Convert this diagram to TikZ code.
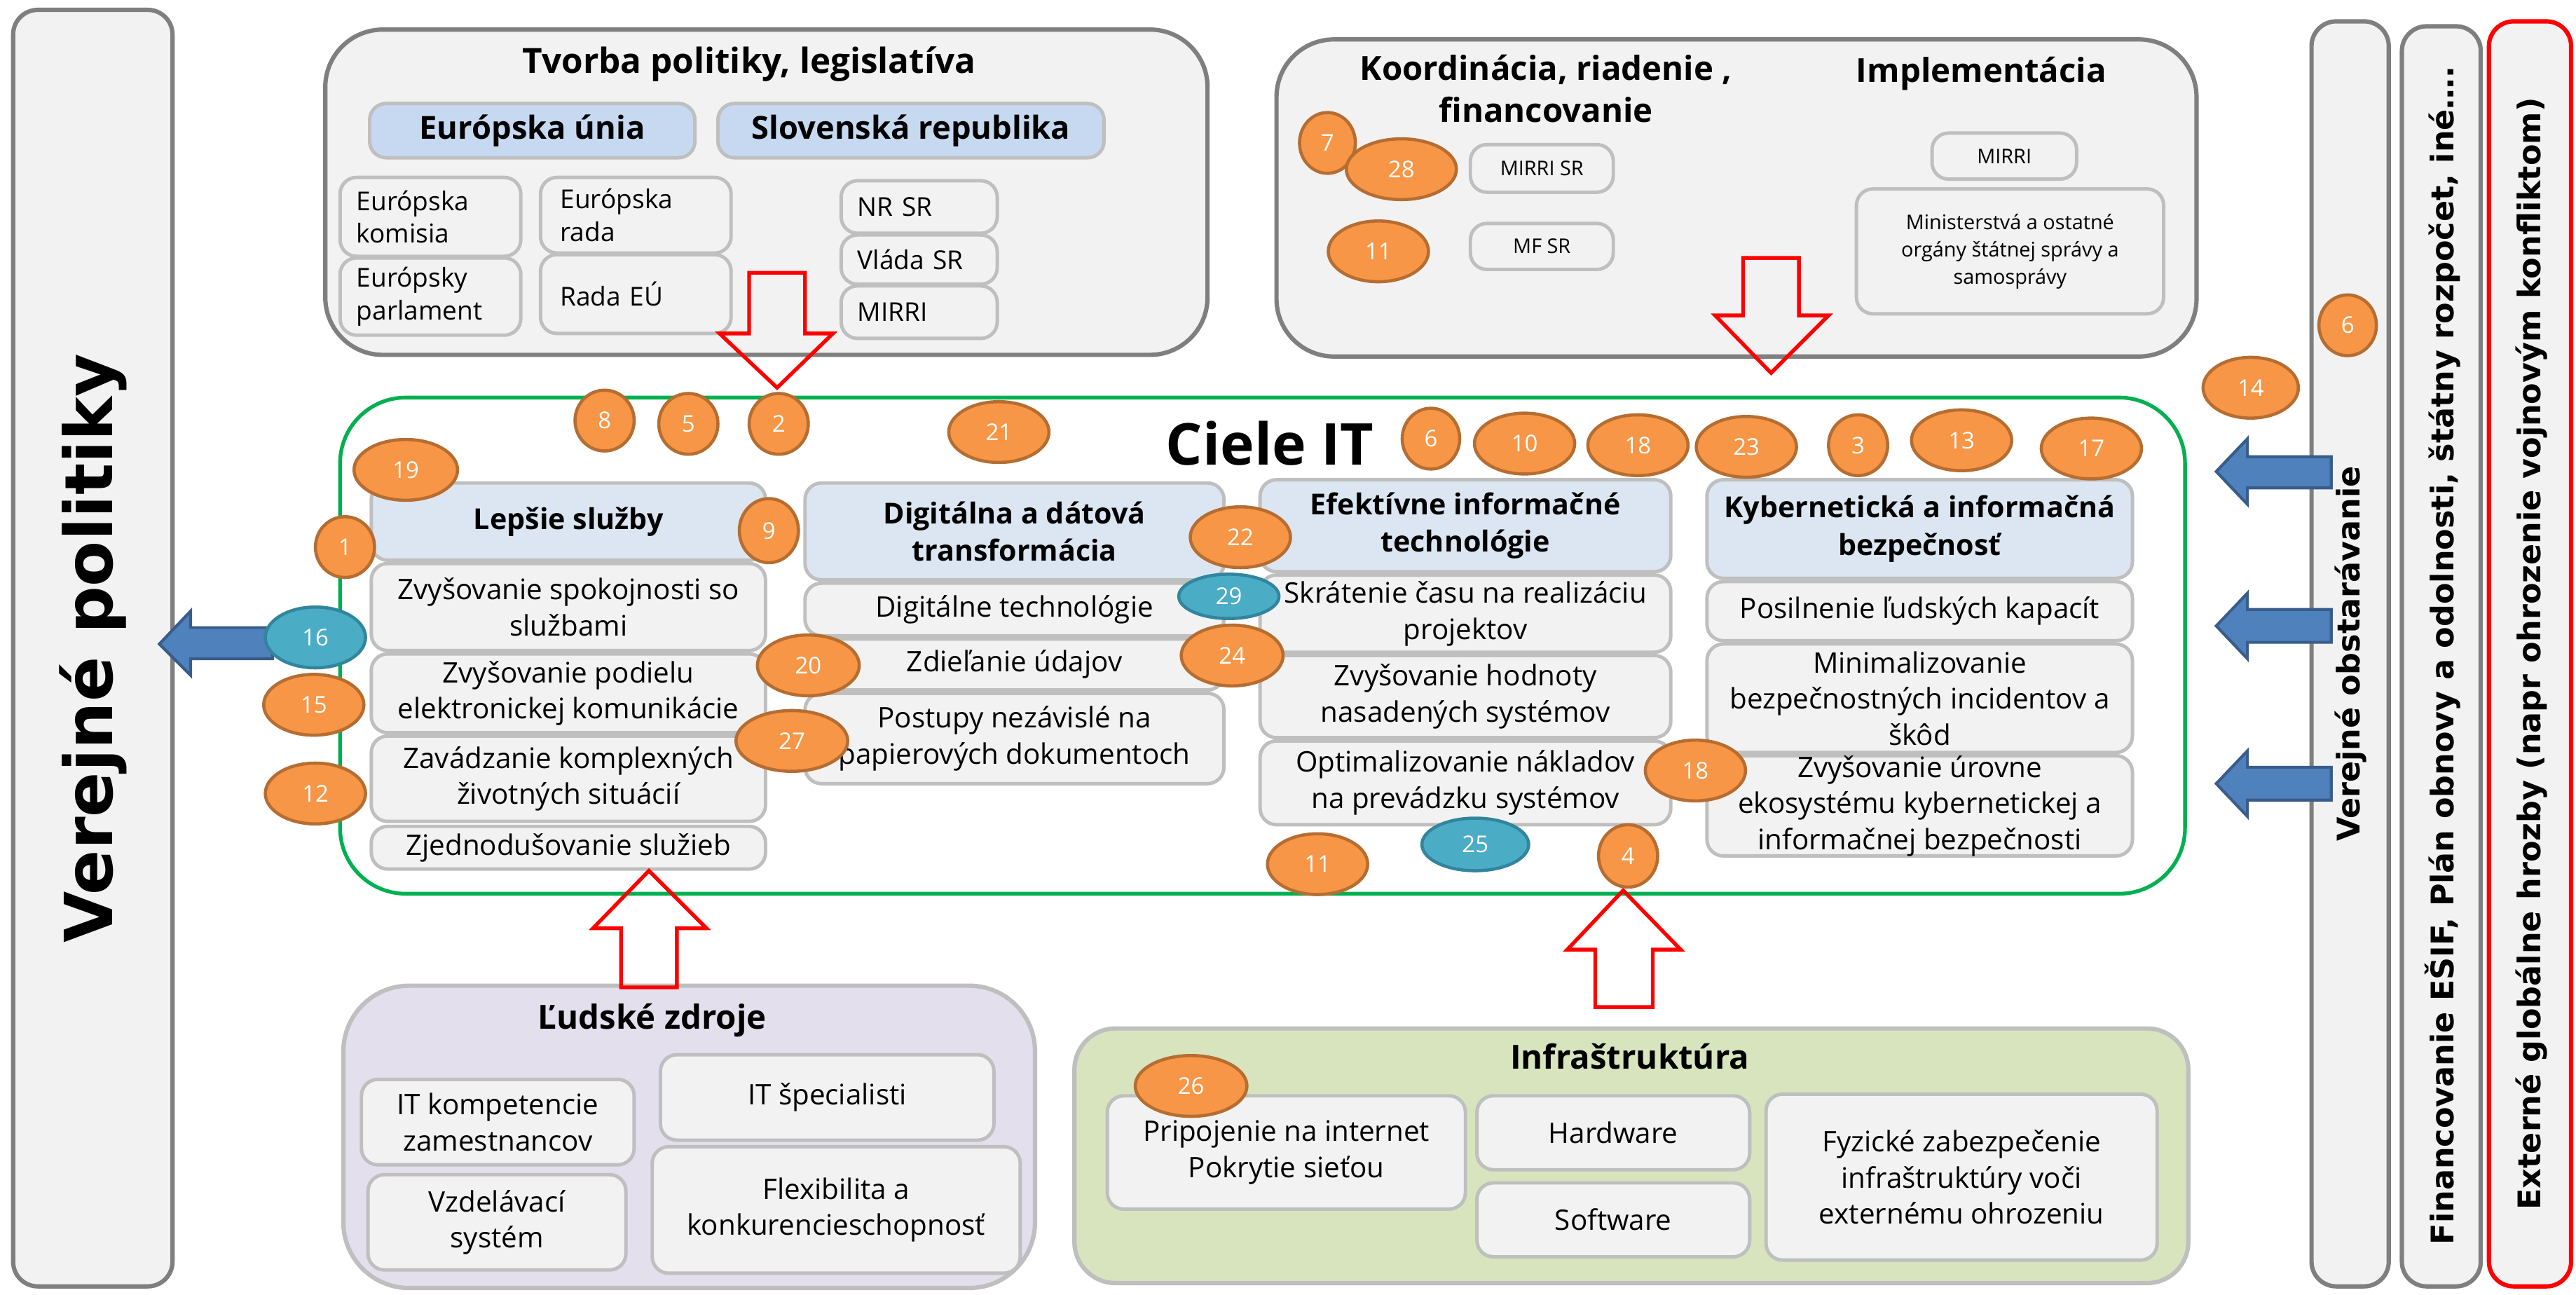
\documentclass[tikz,border=0pt]{standalone}
\usepackage{fontspec}
\setmainfont{Open Sans}
\newfontfamily\vertfont{DejaVu Sans}
\usepackage{tikz}
\usetikzlibrary{shapes.geometric,fit,positioning}

\definecolor{boxfill}{HTML}{F2F2F2}
\definecolor{boxline}{HTML}{BFBFBF}
\definecolor{bigline}{HTML}{7F7F7F}
\definecolor{headfill}{HTML}{DCE6F2}
\definecolor{eufill}{HTML}{C6D9F1}
\definecolor{ludfill}{HTML}{E4DFEC}
\definecolor{infrafill}{HTML}{D7E4BD}
\definecolor{numfill}{HTML}{F79646}
\definecolor{numline}{HTML}{B66D31}
\definecolor{tealfill}{HTML}{4BACC6}
\definecolor{tealline}{HTML}{31859C}
\definecolor{arrfill}{HTML}{4F81BD}
\definecolor{arrline}{HTML}{385D8A}
\definecolor{cielgreen}{HTML}{00B050}

\begin{document}
\begin{tikzpicture}[x=0.02cm, y=-0.02cm,
    smallbox/.style={draw=boxline, line width=1.2pt, fill=boxfill, rounded corners=0.2cm, inner sep=0pt},
    headbox/.style={smallbox, fill=headfill},
    eubox/.style={smallbox, fill=eufill},
    bodytext/.style={align=center, inner sep=0pt, font=\fontsize{9.8}{12.5}\selectfont},
    headtext/.style={bodytext, font=\bfseries\fontsize{10}{13}\selectfont},
    eutext/.style={bodytext, font=\bfseries\fontsize{11}{13}\selectfont},
    lefttext/.style={align=left, inner sep=0pt, font=\fontsize{9}{11.4}\selectfont},
    tinytext/.style={bodytext, font=\fontsize{7}{9.4}\selectfont},
    panel/.style={draw=bigline, line width=1.5pt, fill=boxfill, rounded corners=0.3cm, inner sep=0pt},
    bigbox/.style={draw=bigline, line width=1.5pt, fill=boxfill, rounded corners=0.7cm, inner sep=0pt},
    title/.style={font=\bfseries\fontsize{11.5}{14.7}\selectfont, align=center},
    vtext/.style={rotate=90, font=\vertfont\bfseries\fontsize{10.8}{13}\selectfont},
    num/.style={ellipse, draw=numline, line width=1.1pt, fill=numfill, text=white, inner sep=0pt,
        minimum width=0.72cm, minimum height=0.74cm, font=\fontsize{8}{9}\selectfont},
    numw/.style={num, minimum width=1.22cm},
    teal/.style={num, draw=tealline, fill=tealfill, minimum width=1.22cm},
    redarrow/.style={draw=red, line width=1.3pt},
    bluearrow/.style={draw=arrline, line width=1pt, fill=arrfill}
]
\useasboundingbox (0,0) rectangle (1568,788);

% side panels
\node[panel, fit={(8,6) (105,783)}] (pol) {};
\node[vtext, font=\vertfont\bfseries\fontsize{23}{26}\selectfont] (polt) at (pol.center) {Verejné politiky};
\node[panel, fit={(1407,13) (1454,783)}] (obst) {};
\node[vtext] (obstt) at (1431,398) {Verejné obstarávanie};
\node[panel, fit={(1462,16) (1510,783)}] (fin) {};
\node[vtext] (fint) at (1487,399) {Financovanie EŠIF, Plán obnovy a odolnosti, štátny rozpočet, iné….};
\node[panel, draw=red, fit={(1515,13) (1565,783)}] (ext) {};
\node[vtext] (extt) at (1541,398) {Externé globálne hrozby (napr ohrozenie vojnovým konfliktom)};

% tvorba politiky
\node[bigbox, fit={(198,18) (735,216)}] (tvorba) {};
\node[title, font=\bfseries\fontsize{12}{14}\selectfont] (tvorbat) at (456,39) {Tvorba politiky, legislatíva};
\node[eubox, fit={(225,63) (423,96)}, label={[eutext]center:Európska únia}] (eu) {};
\node[eubox, fit={(437,63) (672,96)}, label={[eutext]center:Slovenská republika}] (sr) {};
\node[smallbox, fit={(207,108) (317,156)}, label={[lefttext, text width=1.8cm]center:{Európska\\komisia}}] (ek) {};
\node[smallbox, fit={(329,108) (445,154)}, label={[lefttext, text width=1.84cm]center:{Európska\\rada}}] (er) {};
\node[smallbox, fit={(207,157) (317,204)}, label={[lefttext, text width=1.8cm]center:{Európsky\\parlament}}] (ep) {};
\node[smallbox, fit={(329,155) (445,203)}, label={[lefttext, text width=1.84cm]center:Rada EÚ}] (reu) {};
\node[smallbox, fit={(512,110) (607,142)}, label={[lefttext, text width=1.5cm]center:NR SR}] (nrsr) {};
\node[smallbox, fit={(512,143) (607,173)}, label={[lefttext, text width=1.5cm]center:Vláda SR}] (vlada) {};
\node[smallbox, fit={(512,174) (607,206)}, label={[lefttext, text width=1.5cm]center:MIRRI}] (mirri) {};

% koordinacia a implementacia
\node[bigbox, fit={(777,24) (1337,217)}] (koord) {};
\node[title] (koordt) at (941,54) {Koordinácia, riadenie ,\\financovanie};
\node[title] (implt) at (1206,45) {Implementácia};
\node[smallbox, fit={(895,88) (982,117)}, label={[tinytext]center:MIRRI SR}] (mirrisr) {};
\node[smallbox, fit={(895,136) (982,164)}, label={[tinytext]center:MF SR}] (mfsr) {};
\node[smallbox, fit={(1176,81) (1264,109)}, label={[tinytext]center:MIRRI}] (mirri2) {};
\node[smallbox, fit={(1130,115) (1317,191)}, label={[tinytext]center:{Ministerstvá a ostatné\\orgány štátnej správy a\\samosprávy}}] (minist) {};

% ciele IT
\node[draw=cielgreen, line width=1.3pt, rounded corners=0.8cm, inner sep=0pt, fit={(207,242) (1330,544)}] (ciele) {};
\node[font=\bfseries\fontsize{20}{24}\selectfont] (cielet) at (773,270) {Ciele IT};

\node[headbox, fit={(226,294) (466,341)}, label={[headtext]center:Lepšie služby}] (hlep) {};
\node[smallbox, fit={(226,343) (466,396)}, label={[bodytext]center:{Zvyšovanie spokojnosti so\\službami}}] (spok) {};
\node[smallbox, fit={(226,398) (466,446)}, label={[bodytext]center:{Zvyšovanie podielu\\elektronickej komunikácie}}] (podiel) {};
\node[smallbox, fit={(226,448) (466,500)}, label={[bodytext]center:{Zavádzanie komplexných\\životných situácií}}] (zivot) {};
\node[smallbox, fit={(226,503) (466,529)}, label={[bodytext]center:Zjednodušovanie služieb}] (zjedn) {};

\node[headbox, fit={(490,294) (745,353)}, label={[headtext]center:{Digitálna a dátová\\transformácia}}] (hdig) {};
\node[smallbox, fit={(490,355) (745,387)}, label={[bodytext]center:Digitálne technológie}] (digtech) {};
\node[smallbox, fit={(490,389) (745,420)}, label={[bodytext]center:Zdieľanie údajov}] (zdiel) {};
\node[smallbox, fit={(490,422) (745,477)}, label={[bodytext]center:{Postupy nezávislé na\\papierových dokumentoch}}] (postupy) {};

\node[headbox, fit={(767,292) (1017,348)}, label={[headtext]center:{Efektívne informačné\\technológie}}] (hefe) {};
\node[smallbox, fit={(767,350) (1017,397)}, label={[bodytext]center:{Skrátenie času na realizáciu\\projektov}}] (skrat) {};
\node[smallbox, fit={(767,399) (1017,449)}, label={[bodytext]center:{Zvyšovanie hodnoty\\nasadených systémov}}] (hodnota) {};
\node[smallbox, fit={(767,451) (1017,502)}, label={[bodytext]center:{Optimalizovanie nákladov\\na prevádzku systémov}}] (naklady) {};

\node[headbox, fit={(1039,292) (1298,352)}, label={[headtext]center:{Kybernetická a informačná\\bezpečnosť}}] (hkyb) {};
\node[smallbox, fit={(1039,354) (1298,390)}, label={[bodytext]center:Posilnenie ľudských kapacít}] (kapac) {};
\node[smallbox, fit={(1039,392) (1298,458)}, label={[bodytext]center:{Minimalizovanie\\bezpečnostných incidentov a\\škôd}}] (incid) {};
\node[smallbox, fit={(1039,460) (1298,521)}, label={[bodytext]center:{Zvyšovanie úrovne\\ekosystému kybernetickej a\\informačnej bezpečnosti}}] (ekosys) {};

% ludske zdroje
\node[draw=boxline, line width=1.5pt, fill=ludfill, rounded corners=0.8cm, inner sep=0pt, fit={(209,600) (630,784)}] (lud) {};
\node[title] (ludt) at (397,621) {Ľudské zdroje};
\node[smallbox, fit={(220,657) (386,709)}, label={[bodytext]center:{IT kompetencie\\zamestnancov}}] (itkomp) {};
\node[smallbox, fit={(402,642) (605,694)}, label={[bodytext]center:IT špecialisti}] (itspec) {};
\node[smallbox, fit={(224,715) (381,773)}, label={[bodytext]center:{Vzdelávací\\systém}}] (vzdel) {};
\node[smallbox, fit={(397,698) (621,775)}, label={[bodytext]center:{Flexibilita a\\konkurencieschopnosť}}] (flex) {};

% infrastruktura
\node[draw=boxline, line width=1.5pt, fill=infrafill, rounded corners=0.5cm, inner sep=0pt, fit={(654,626) (1332,781)}] (infra) {};
\node[title] (infrat) at (992,643) {Infraštruktúra};
\node[smallbox, fit={(674,667) (892,736)}, label={[bodytext]center:{Pripojenie na internet\\Pokrytie sieťou}}] (pripoj) {};
\node[smallbox, fit={(899,667) (1065,712)}, label={[bodytext]center:Hardware}] (hw) {};
\node[smallbox, fit={(899,720) (1065,765)}, label={[bodytext]center:Software}] (sw) {};
\node[smallbox, fit={(1075,666) (1313,767)}, label={[bodytext]center:{Fyzické zabezpečenie\\infraštruktúry voči\\externému ohrozeniu}}] (fyz) {};

% red arrows into Ciele IT
\draw[redarrow] (456,166) -- (490,166) -- (490,203) -- (507,203) -- (473,236) -- (438,203) -- (456,203) -- cycle;
\draw[redarrow] (1061,157) -- (1095,157) -- (1095,192) -- (1113,192) -- (1078,227) -- (1044,192) -- (1061,192) -- cycle;
\draw[redarrow] (378,601) -- (412,601) -- (412,565) -- (430,565) -- (395,530) -- (361,565) -- (378,565) -- cycle;
\draw[redarrow] (971,613) -- (1006,613) -- (1006,578) -- (1023,578) -- (988,542) -- (954,578) -- (971,578) -- cycle;

% blue arrows
\draw[bluearrow] (166,382) -- (116,382) -- (116,372) -- (97,392) -- (116,411) -- (116,401) -- (166,401) -- cycle;
\draw[bluearrow] (1419,278) -- (1368,278) -- (1368,267) -- (1349,287) -- (1368,307) -- (1368,297) -- (1419,297) -- cycle;
\draw[bluearrow] (1419,371) -- (1368,371) -- (1368,361) -- (1349,381) -- (1368,401) -- (1368,391) -- (1419,391) -- cycle;
\draw[bluearrow] (1419,467) -- (1368,467) -- (1368,457) -- (1349,477) -- (1368,497) -- (1368,487) -- (1419,487) -- cycle;

% numbered markers
\node[num, minimum width=0.68cm] (n7) at (808,87) {7};
\node[numw, minimum width=1.34cm] (n28) at (853,103) {28};
\node[numw] (n11a) at (839,153) {11};
\node[num, minimum width=0.7cm] (n6a) at (1429,198) {6};
\node[numw, minimum width=1.16cm] (n14) at (1370,236) {14};
\node[num] (n8) at (368,256) {8};
\node[num] (n5) at (419,258) {5};
\node[num] (n2) at (474,258) {2};
\node[numw] (n21) at (608,263) {21};
\node[numw, minimum width=1.26cm] (n19) at (247,286) {19};
\node[num, minimum width=0.7cm] (n6b) at (871,267) {6};
\node[numw] (n10) at (928,270) {10};
\node[numw] (n18a) at (997,271) {18};
\node[numw] (n23) at (1063,272) {23};
\node[num] (n3) at (1131,271) {3};
\node[numw] (n13) at (1194,268) {13};
\node[numw] (n17) at (1273,273) {17};
\node[num] (n1) at (210,333) {1};
\node[num, minimum height=0.78cm] (n9) at (468,323) {9};
\node[numw] (n22) at (755,327) {22};
\node[teal, minimum height=0.54cm] (n29) at (748,363) {29};
\node[numw, minimum width=1.24cm] (n20) at (492,405) {20};
\node[numw, minimum width=1.24cm] (n24) at (750,399) {24};
\node[numw, minimum width=1.36cm] (n27) at (482,451) {27};
\node[teal] (n16) at (192,388) {16};
\node[numw] (n15) at (191,429) {15};
\node[numw] (n12) at (192,483) {12};
\node[numw] (n18b) at (1032,469) {18};
\node[numw] (n11b) at (802,526) {11};
\node[teal, minimum width=1.3cm, minimum height=0.64cm] (n25) at (898,514) {25};
\node[num, minimum height=0.76cm] (n4) at (991,521) {4};
\node[numw, minimum width=1.36cm] (n26) at (725,661) {26};
\end{tikzpicture}
\end{document}
